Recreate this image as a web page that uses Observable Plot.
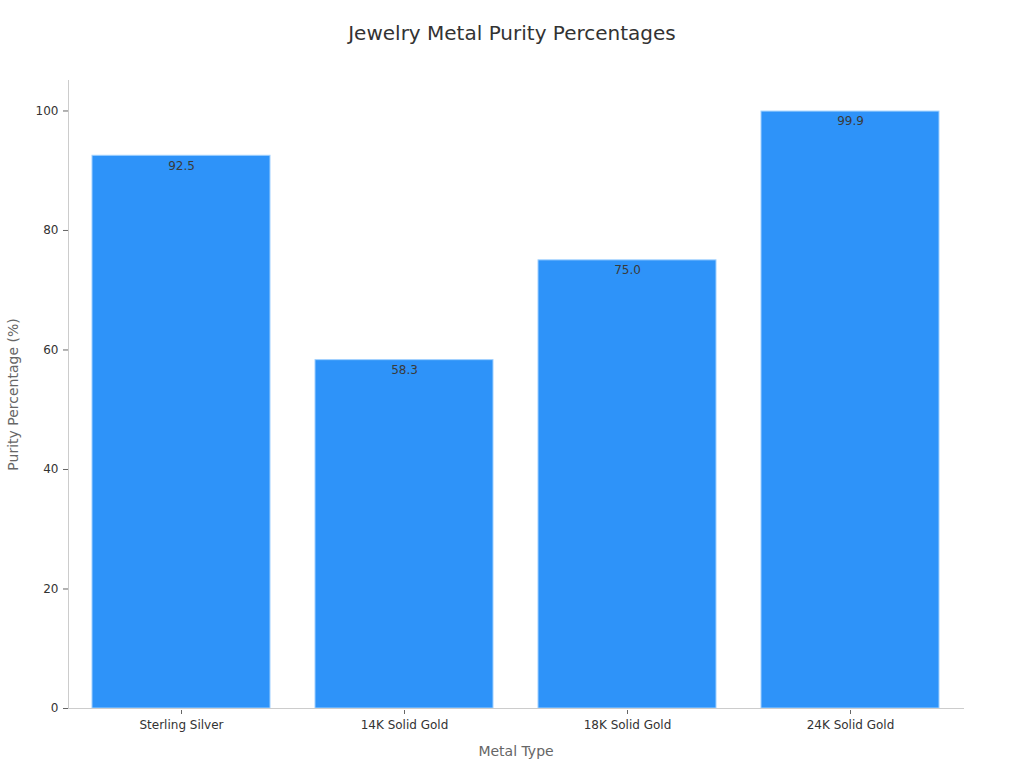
<!DOCTYPE html>
<html><head><meta charset="utf-8">
<script src="https://cdn.jsdelivr.net/npm/d3@7"></script>
<script src="https://cdn.jsdelivr.net/npm/@observablehq/plot@0.6"></script>
<style>
body{margin:0;background:#fff;font-family:"DejaVu Sans",sans-serif;}
#title{height:60px;box-sizing:border-box;padding-top:21px;text-align:center;font-size:20px;color:#333;}
</style></head>
<body>
<div id="title">Jewelry Metal Purity Percentages</div>
<div id="chart"></div>
<script>
const categories = ["Sterling Silver", "14K Solid Gold", "18K Solid Gold", "24K Solid Gold"];
const purity = [92.5, 58.3, 75.0, 99.9];
const yTicks = [0, 20, 40, 60, 80, 100];
const data = categories.map((c, i) => ({metal: c, value: purity[i]}));

const chart = Plot.plot({
  width: 1024,
  height: 708,
  marginTop: 20,
  marginBottom: 60,
  marginLeft: 68,
  marginRight: 61,
  style: {fontFamily: "DejaVu Sans, sans-serif", fontSize: "12px", color: "#333", background: "#fff"},
  x: {domain: categories, paddingInner: 0.2, paddingOuter: 0.1, label: null},
  y: {domain: [0, 105.1], label: null},
  marks: [
    Plot.barY(data, {x: "metal", y: "value", fill: "#2E93F9", stroke: "#9fd0ff", strokeWidth: 1}),
    Plot.text(data, {x: "metal", y: "value", text: d => d.value.toFixed(1), dy: 10, fill: "#3a3a3a", fontSize: 12}),
    Plot.frame({anchor: "left", stroke: "#ccc"}),
    Plot.frame({anchor: "bottom", stroke: "#ccc"}),
    Plot.axisY({ticks: yTicks, tickSize: 5, tickPadding: 5, stroke: "#666", fill: "#333", fontSize: 12, label: null}),
    Plot.axisX({tickSize: 4, tickPadding: 6, dy: 2, stroke: "#666", fill: "#333", fontSize: 12, label: null}),
    Plot.text(["Metal Type"], {frameAnchor: "bottom", dy: 47, fill: "#666", fontSize: 14}),
    Plot.text(["Purity Percentage (%)"], {frameAnchor: "left", textAnchor: "middle", dx: -55, rotate: -90, fill: "#666", fontSize: 14})
  ]
});
document.getElementById("chart").appendChild(chart);
</script>
</body></html>
